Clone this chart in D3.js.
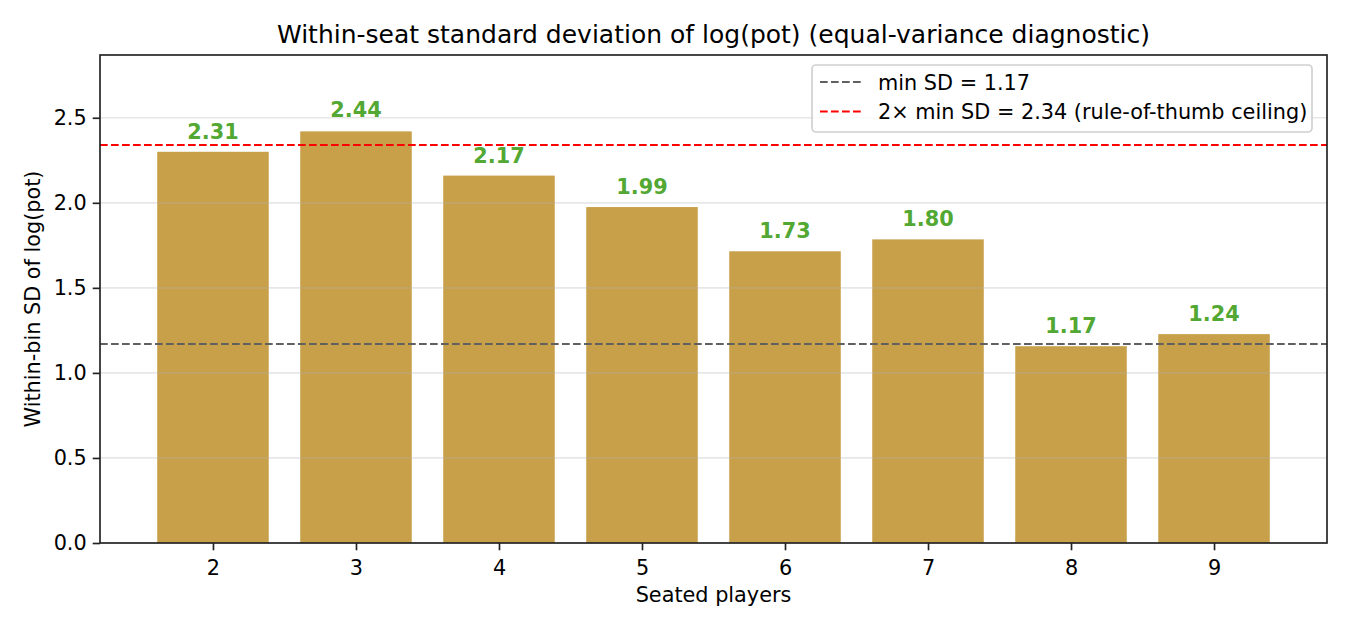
<!DOCTYPE html>
<html lang="en">
<head>
    <meta charset="UTF-8">
    <title>within-seat SD</title>
    <style>
        body { margin: 0; background: #fff; }
        text { font-family: "DejaVu Sans", sans-serif; fill: #000; }
        .tick text { font-size: 20.8px; }
        .bar-label { font-size: 20.8px; font-weight: bold; fill: #52a832; }
    </style>
</head>
<body>
    <svg width="1350" height="630"></svg>
    <script src="https://d3js.org/d3.v7.min.js"></script>
    <script>
        // data
        let seats = [2, 3, 4, 5, 6, 7, 8, 9];
        let sdValues = [2.30, 2.42, 2.16, 1.975, 1.715, 1.785, 1.157, 1.228];
        let sdLabels = [2.31, 2.44, 2.17, 1.99, 1.73, 1.80, 1.17, 1.24];
        let minSD = 1.17;
        let ceilingSD = 2.34;
        let yTicks = [0, 0.5, 1.0, 1.5, 2.0, 2.5];

        let svg = d3.select("svg"),
            margin = { top: 55, right: 23, bottom: 87, left: 100 },
            width = +svg.attr("width") - margin.left - margin.right,
            height = +svg.attr("height") - margin.top - margin.bottom;

        svg.append("rect").attr("width", 1350).attr("height", 630).attr("fill", "#fff");

        let g = svg.append("g").attr("transform", `translate(${margin.left},${margin.top})`);

        let barW = 0.78;
        let x = d3.scaleLinear()
            .domain([1.21, 9.79])
            .range([0, width]);
        let y = d3.scaleLinear()
            .domain([0, 2.869])
            .range([height, 0]);

        // bars
        g.selectAll(".bar")
            .data(seats)
            .enter().append("rect")
            .attr("class", "bar")
            .attr("x", d => x(d - barW / 2))
            .attr("width", x(barW) - x(0))
            .attr("y", (d, i) => y(sdValues[i]))
            .attr("height", (d, i) => y(0) - y(sdValues[i]))
            .attr("fill", "#c8a04a");

        // grid on top, semi transparent
        g.selectAll(".grid")
            .data(yTicks)
            .enter().append("line")
            .attr("x1", 0).attr("x2", width)
            .attr("y1", d => y(d)).attr("y2", d => y(d))
            .attr("stroke", "#b0b0b0")
            .attr("stroke-opacity", 0.3)
            .attr("stroke-width", 1.67);

        // reference lines
        let refs = [
            { v: minSD, color: "#606060", label: `min SD = ${minSD.toFixed(2)}` },
            { v: ceilingSD, color: "#ff0000", label: `2\u00d7 min SD = ${ceilingSD.toFixed(2)} (rule-of-thumb ceiling)` }
        ];
        g.selectAll(".ref")
            .data(refs)
            .enter().append("line")
            .attr("x1", 0).attr("x2", width)
            .attr("y1", d => y(d.v)).attr("y2", d => y(d.v))
            .attr("stroke", d => d.color)
            .attr("stroke-width", 2.08)
            .attr("stroke-dasharray", "7.7,3.3");

        // value labels
        g.selectAll(".bar-label")
            .data(seats)
            .enter().append("text")
            .attr("class", "bar-label")
            .attr("x", d => x(d))
            .attr("y", (d, i) => y(sdLabels[i]) - 10.6)
            .attr("text-anchor", "middle")
            .text((d, i) => sdLabels[i].toFixed(2));

        // axes
        let xAxis = g.append("g")
            .attr("transform", `translate(0,${height})`)
            .call(d3.axisBottom(x).tickValues(seats).tickFormat(d3.format("d")).tickSizeOuter(0).tickSize(7.3).tickPadding(5));
        let yAxis = g.append("g")
            .call(d3.axisLeft(y).tickValues(yTicks).tickFormat(d3.format(".1f")).tickSizeOuter(0).tickSize(7.3).tickPadding(6));
        [xAxis, yAxis].forEach(a => {
            a.select(".domain").remove();
            a.selectAll("line").attr("stroke", "#222").attr("stroke-width", 1.67);
            a.selectAll("text").attr("fill", "#111");
        });
        xAxis.selectAll("text").attr("dy", "0.95em");

        // frame
        g.append("rect")
            .attr("width", width).attr("height", height)
            .attr("fill", "none")
            .attr("stroke", "#222")
            .attr("stroke-width", 1.67);

        // title and axis labels
        svg.append("text")
            .attr("x", margin.left + width / 2)
            .attr("y", 42.5)
            .attr("text-anchor", "middle")
            .style("font-size", "25px")
            .text("Within-seat standard deviation of log(pot) (equal-variance diagnostic)");
        svg.append("text")
            .attr("x", margin.left + width / 2)
            .attr("y", 602)
            .attr("text-anchor", "middle")
            .style("font-size", "20.8px")
            .text("Seated players");
        svg.append("text")
            .attr("transform", `translate(40,${margin.top + height / 2}) rotate(-90)`)
            .attr("text-anchor", "middle")
            .style("font-size", "20.8px")
            .text("Within-bin SD of log(pot)");

        // legend
        let legend = svg.append("g").attr("transform", "translate(812,65)");
        legend.append("rect")
            .attr("width", 500).attr("height", 67)
            .attr("rx", 4)
            .attr("fill", "#fff")
            .attr("fill-opacity", 0.8)
            .attr("stroke", "#d0d0d0")
            .attr("stroke-width", 1.67);
        let item = legend.selectAll(".item")
            .data(refs)
            .enter().append("g")
            .attr("transform", (d, i) => `translate(0,${17 + i * 29.5})`);
        item.append("line")
            .attr("x1", 8).attr("x2", 49)
            .attr("stroke", d => d.color)
            .attr("stroke-width", 2.08)
            .attr("stroke-dasharray", "7.7,3.3");
        item.append("text")
            .attr("x", 66)
            .attr("dy", "0.36em")
            .style("font-size", "20.8px")
            .text(d => d.label);
    </script>
</body>
</html>
